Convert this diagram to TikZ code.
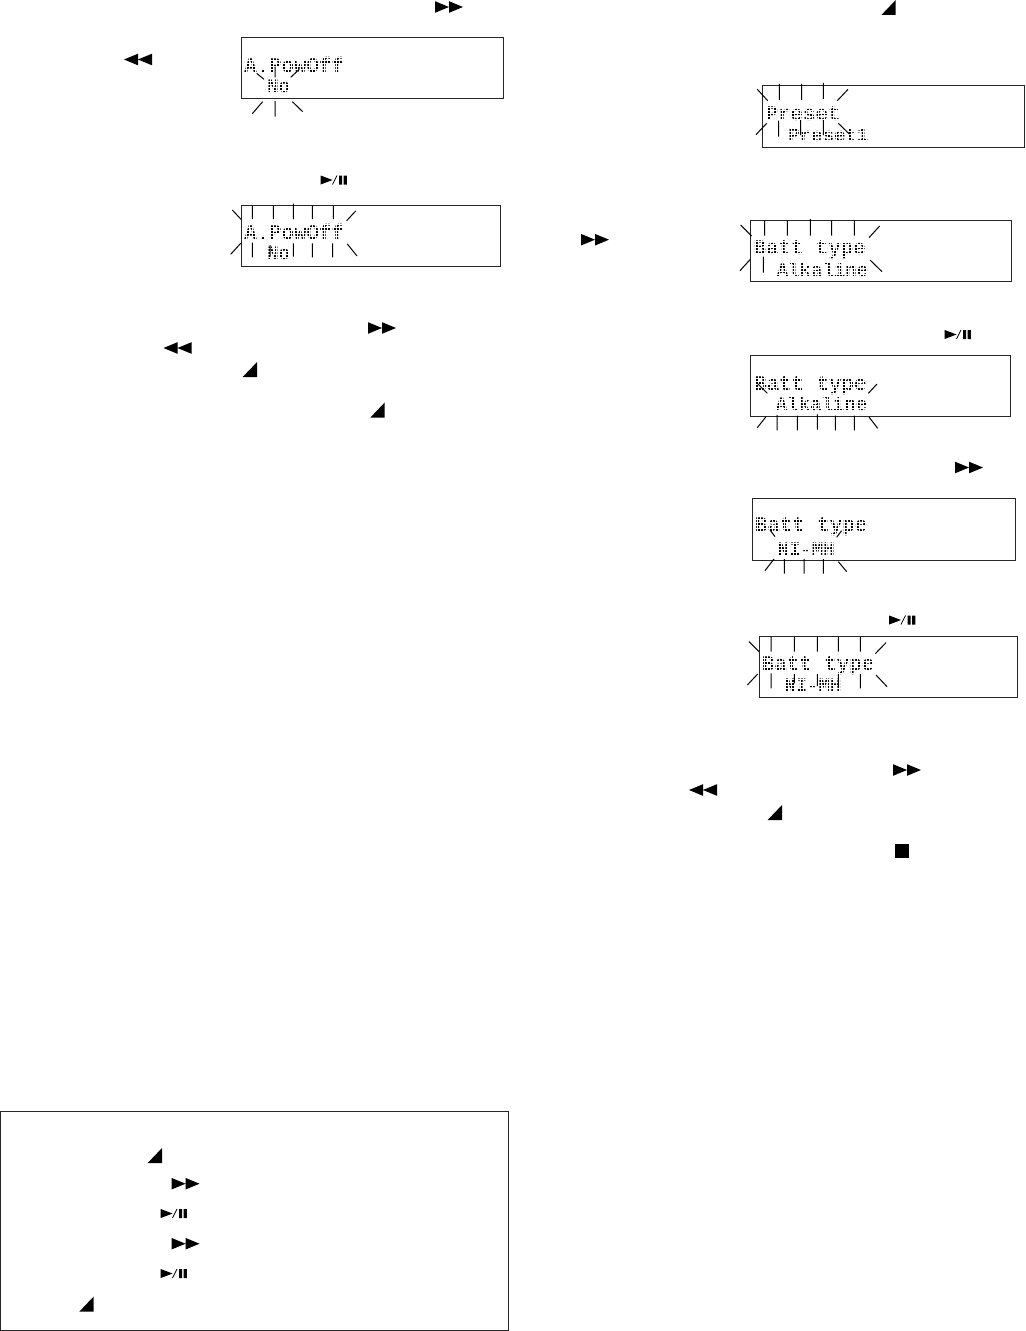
\documentclass[tikz,border=0pt]{standalone}
\usepackage{fontspec}
\newfontfamily\lcdfont{Liberation Mono}
\newcommand{\lcdmask}[4]{%
  \pgfmathsetmacro{\gxb}{#1+3}\pgfmathsetmacro{\gyb}{#2+3}%
  \foreach \gx in {#1,\gxb,...,#3} {\draw[maskline] (\gx,#2)--(\gx,#4);}%
  \foreach \gy in {#2,\gyb,...,#4} {\draw[maskline] (#1,\gy)--(#3,\gy);}%
}
\tikzset{
  maskline/.style={white,line width=.5pt},
  lcdbox/.style={draw=black!85,line width=.75pt,fill=white},
  burst/.style={draw=black,line width=.75pt},
  lcdone/.style={anchor=base west,inner sep=0pt,text=black,font=\lcdfont\bfseries\fontsize{15.6pt}{16pt}\selectfont},
  lcdtwo/.style={anchor=base west,inner sep=0pt,text=black,font=\lcdfont\bfseries\fontsize{14.3pt}{16pt}\selectfont},
  zoomed/.style={x=.25pt,y=-.25pt},
  ffsym/.pic={\fill[black] (-14,-5.8)--(-14,5.8)--(0,0)--cycle (0,-5.8)--(0,5.8)--(14,0)--cycle;},
  rewsym/.pic={\fill[black] (14,-5.8)--(14,5.8)--(0,0)--cycle (0,-5.8)--(0,5.8)--(-14,0)--cycle;},
  cornersym/.pic={\fill[black] (-14.3,0)--(0,0)--(0,-15)--cycle;},
  playsym/.pic={\fill[black] (-13.3,-4.5)--(-13.3,4.5)--(-1.5,0)--cycle (5,-4.5) rectangle (8,4.5) (9.6,-4.5) rectangle (12.9,4.5);
    \draw[black,line width=.6pt] (-1.5,4.5)--(3,-4.5);},
}
\begin{document}
\begin{tikzpicture}[x=.75pt,y=-.75pt]
\useasboundingbox (0,0) rectangle (1025,1331);
% display frames
\draw[lcdbox] (241.3,37.3) rectangle (503.7,98.7);
\draw[lcdbox] (241.3,205.3) rectangle (500.3,266.3);
\draw[lcdbox] (762.3,85.3) rectangle (1024.5,147.3);
\draw[lcdbox] (750.3,220.3) rectangle (1011.3,281.3);
\draw[lcdbox] (750.3,355.3) rectangle (1010.3,416.7);
\draw[lcdbox] (752.3,498.3) rectangle (1015.7,560.3);
\draw[lcdbox] (759.3,636.3) rectangle (1017.7,697.3);
\draw[lcdbox] (.7,1111.7) rectangle (508.7,1330);
% display texts
\node[lcdone] (a1) at (244,72.7) {A.PowOff};
\node[lcdtwo] (a2) at (267,93) {No};
\node[lcdone] (b1) at (244,239.3) {A.PowOff};
\node[lcdtwo] (b2) at (267,259.3) {No};
\node[lcdone] (c1) at (765.5,120) {Preset};
\node[lcdtwo] (c2) at (788,141) {Preset1};
\node[lcdone] (d1) at (753.3,254) {Batt type};
\node[lcdtwo] (d2) at (776.5,276) {Alkaline};
\node[lcdone] (e1) at (754,390.7) {Batt type};
\node[lcdtwo] (e2) at (775.5,410.7) {Alkaline};
\node[lcdone] (f1) at (754.7,531.7) {Batt type};
\node[lcdtwo] (f2) at (777.3,555) {NI-MH};
\node[lcdone] (g1) at (761.7,670.7) {Batt type};
\node[lcdtwo] (g2) at (784,691.7) {NI-MH};
% dot-matrix look of the displays
\lcdmask{243}{54}{352}{97}
\lcdmask{243}{221}{352}{265}
\lcdmask{764}{101}{872}{146}
\lcdmask{752}{235}{872}{280}
\lcdmask{752}{372}{872}{415}
\lcdmask{754}{513}{872}{559}
\lcdmask{761}{652}{880}{696}
% blink strokes
\begin{scope}[shift={(220,0)},zoomed]
\draw[burst] (110,220)--(132,238) (238,208)--(212,232) (165,200)--(165,232)
 (128,305)--(97,341) (165,303)--(165,350) (217,305)--(248,335);
\end{scope}
\begin{scope}[shift={(220,160)},zoomed]
\draw[burst] (37,150)--(63,178) (97,136)--(97,177) (160,136)--(160,177) (220,131)--(220,177) (277,136)--(277,177) (340,136)--(340,177) (407,153)--(380,182)
 (62,250)--(32,283) (97,248)--(97,292) (150,255)--(150,290) (220,250)--(220,290) (277,250)--(277,292) (338,250)--(338,292) (382,252)--(411,288);
\end{scope}
\begin{scope}[shift={(740,70)},zoomed]
\draw[burst] (52,58)--(83,92) (118,42)--(118,90) (185,42)--(185,90) (250,39)--(250,87) (324,58)--(292,92)
 (80,160)--(48,194) (116,152)--(116,200) (182,150)--(182,195) (250,150)--(250,195) (295,160)--(328,192);
\draw[burst] (2,465)--(35,498) (74,451)--(74,497) (142,451)--(142,497) (211,447)--(211,497) (275,451)--(275,497) (343,451)--(343,497) (419,468)--(387,503)
 (31,568)--(0,602) (70,560)--(70,608) (390,570)--(426,605);
\end{scope}
\begin{scope}[shift={(740,320)},zoomed]
\draw[burst] (50,188)--(82,220) (411,192)--(385,220) (78,290)--(52,323) (111,285)--(111,331) (172,287)--(172,331) (232,283)--(232,329) (286,287)--(286,331) (343,287)--(343,331) (387,291)--(413,325);
\draw[burst] (90,630)--(105,650) (305,632)--(290,652) (102,717)--(75,752) (133,717)--(133,761) (192,717)--(192,761) (250,717)--(250,761) (295,725)--(320,755);
\end{scope}
\begin{scope}[shift={(740,600)},zoomed]
\draw[burst] (27,125)--(57,155) (93,110)--(93,155) (163,110)--(163,155) (232,110)--(232,155) (295,110)--(295,155) (361,110)--(361,155) (438,128)--(406,161)
 (53,222)--(22,255) (93,220)--(93,265) (163,222)--(163,250) (232,222)--(232,258) (295,222)--(295,258) (361,222)--(361,265) (408,225)--(441,260);
\end{scope}
% key symbols, left column
\pic at (449,7) {ffsym};
\pic at (138,59.5) {rewsym};
\pic at (334,180) {playsym};
\pic at (382,328) {ffsym};
\pic at (177.5,348) {rewsym};
\pic at (257,377) {cornersym};
\pic at (384.7,417.5) {cornersym};
% key symbols, right column
\pic at (895.7,15) {cornersym};
\pic at (595,239.7) {ffsym};
\pic at (958,334.5) {playsym};
\pic at (969,467.5) {ffsym};
\pic at (902.5,620) {playsym};
\pic at (907,770) {ffsym};
\pic at (703,790) {rewsym};
\pic at (782,820) {cornersym};
\fill[black] (895,844) rectangle (909,858);
% key symbols, note box
\pic at (162,1163) {cornersym};
\pic at (185.5,1183.7) {ffsym};
\pic at (174,1213.5) {playsym};
\pic at (185.5,1243.7) {ffsym};
\pic at (174,1273.5) {playsym};
\pic at (93.7,1311.5) {cornersym};
\end{tikzpicture}
\end{document}
